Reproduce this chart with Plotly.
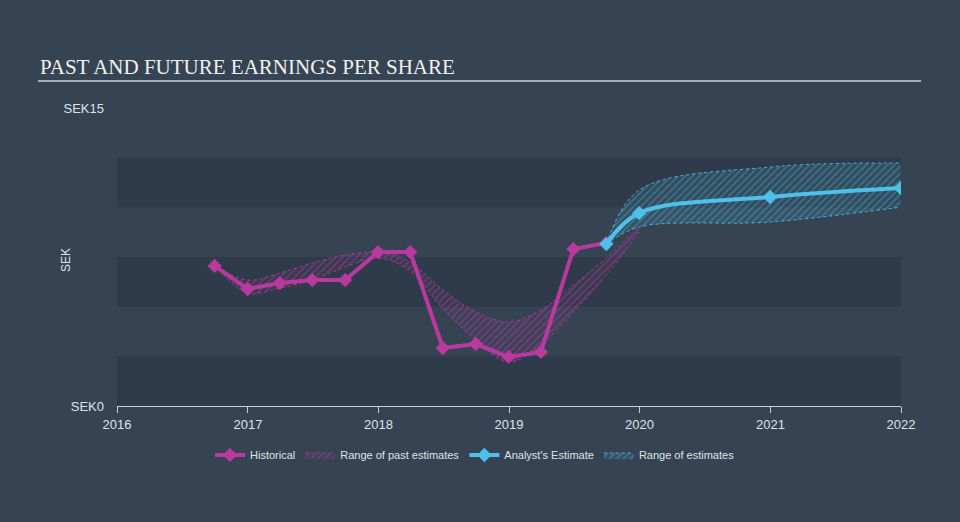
import plotly.graph_objects as go

# ---- data ----
hist_dates = ["2016-09-30", "2016-12-31", "2017-03-31", "2017-06-30", "2017-09-30",
              "2017-12-31", "2018-03-31", "2018-06-30", "2018-09-30", "2018-12-31",
              "2019-03-31", "2019-06-30", "2019-09-30"]
hist_eps = [7.05, 5.89, 6.19, 6.34, 6.34, 7.75, 7.75, 2.92, 3.12, 2.47, 2.72, 7.90, 8.20]

past_range_dates = ["2016-09-30", "2016-12-31", "2017-03-31", "2017-06-30", "2017-09-30",
                    "2017-12-31", "2018-03-31", "2018-06-30", "2018-09-30", "2018-12-31",
                    "2019-03-31", "2019-06-30", "2019-09-30", "2019-12-31"]
past_high = [7.05, 6.34, 6.69, 7.20, 7.60, 7.75, 7.25, 5.84, 4.73, 4.23, 4.83, 6.09, 7.45, 9.06]
past_low = [7.05, 5.69, 5.94, 6.34, 7.00, 7.45, 6.79, 4.90, 3.32, 2.21, 3.07, 4.73, 6.59, 8.76]

fut_dates = ["2019-09-30", "2019-12-31", "2020-12-31", "2021-12-31"]
fut_eps = [8.15, 9.71, 10.52, 10.97]
fut_high = [8.15, 10.87, 12.03, 12.23]
fut_low = [8.15, 9.01, 9.26, 10.01]

year_ticks = ["2016-01-01", "2017-01-01", "2018-01-01", "2019-01-01",
              "2020-01-01", "2021-01-01", "2022-01-01"]
year_labels = ["2016", "2017", "2018", "2019", "2020", "2021", "2022"]
y_ticks = [0, 15]
y_labels = ["SEK0", "SEK15"]
stripe_bands = [(0, 2.5), (5, 7.5), (10, 12.5)]

MAG = "#b9399f"
CYAN = "#4fc1e9"
BG = "#354353"
STRIPE = "#2f3b4a"
TXT = "#dfe3e8"

# pixel geometry helpers (plot area 117..901 x, 108..406 y)
PL, PR, PT, PB = 117, 901, 108, 406
def px(x):
    return (x - PL) / (PR - PL)
def py(y):
    return (PB - y) / (PB - PT)

fig = go.Figure()

# past range
fig.add_trace(go.Scatter(x=past_range_dates, y=past_low, mode="lines",
                         line=dict(color="rgba(185,57,159,0.8)", width=1, dash="dot", shape="spline"),
                         showlegend=False, hoverinfo="skip"))
fig.add_trace(go.Scatter(x=past_range_dates, y=past_high, mode="lines", name="Range of past estimates",
                         line=dict(color="rgba(185,57,159,0.8)", width=1, dash="dot", shape="spline"),
                         fill="tonexty", fillcolor="rgba(185,57,159,0.1)",
                         fillpattern=dict(shape="/", fgcolor="rgba(185,57,159,0.9)",
                                          bgcolor="rgba(185,57,159,0.06)", size=5, solidity=0.3),
                         legendrank=2))
# future range
fig.add_trace(go.Scatter(x=fut_dates, y=fut_low, mode="lines",
                         line=dict(color="rgba(79,193,233,0.85)", width=1, dash="dot", shape="spline"),
                         showlegend=False, hoverinfo="skip"))
fig.add_trace(go.Scatter(x=fut_dates, y=fut_high, mode="lines", name="Range of estimates",
                         line=dict(color="rgba(79,193,233,0.85)", width=1, dash="dot", shape="spline"),
                         fill="tonexty", fillcolor="rgba(79,193,233,0.12)",
                         fillpattern=dict(shape="/", fgcolor="rgba(79,193,233,0.7)",
                                          bgcolor="rgba(79,193,233,0.12)", size=5, solidity=0.3),
                         legendrank=4))
# historical
fig.add_trace(go.Scatter(x=hist_dates, y=hist_eps, mode="lines+markers", name="Historical",
                         line=dict(color=MAG, width=4),
                         marker=dict(symbol="diamond", size=11, color=MAG),
                         legendrank=1))
# analyst estimate
fig.add_trace(go.Scatter(x=fut_dates, y=fut_eps, mode="lines+markers", name="Analyst's Estimate",
                         line=dict(color=CYAN, width=4, shape="spline"),
                         marker=dict(symbol="diamond", size=11, color=CYAN),
                         legendrank=3))

shapes = []
for lo, hi in stripe_bands:
    shapes.append(dict(type="rect", xref="x", yref="y", x0=year_ticks[0], x1=year_ticks[-1],
                       y0=lo, y1=hi, fillcolor=STRIPE, line=dict(width=0), layer="below"))
shapes.append(dict(type="line", xref="paper", yref="paper", x0=px(38), x1=px(921),
                   y0=py(81), y1=py(81), line=dict(color="#a9aeb4", width=2)))

fig.update_layout(
    width=960, height=522,
    margin=dict(l=PL, r=960 - PR, t=PT, b=522 - PB),
    paper_bgcolor=BG, plot_bgcolor=BG,
    font=dict(family="Liberation Sans, Arial, sans-serif", color=TXT, size=12),
    shapes=shapes,
    showlegend=True,
    legend=dict(orientation="h", x=px(475), xanchor="center", y=py(455), yanchor="middle",
                font=dict(size=11, color=TXT), bgcolor="rgba(0,0,0,0)", itemwidth=30,
                traceorder="normal"),
    annotations=[
        dict(text="PAST AND FUTURE EARNINGS PER SHARE", xref="paper", yref="paper",
             x=px(38), y=py(67), xanchor="left", yanchor="middle", showarrow=False,
             font=dict(family="Liberation Serif, Times New Roman, serif", size=21, color="#f2f2f2")),
        dict(text="SEK", xref="paper", yref="paper", x=px(66), y=py(260), textangle=-90,
             xanchor="center", yanchor="middle", showarrow=False,
             font=dict(size=12, color=TXT)),
    ],
)
fig.update_xaxes(range=[year_ticks[0], year_ticks[-1]], tickvals=year_ticks, ticktext=year_labels,
                 showgrid=False, zeroline=False, showline=True, linecolor="#c9d0d8", linewidth=1,
                 ticks="outside", ticklen=6, tickcolor="#c9d0d8", tickfont=dict(size=13, color=TXT))
fig.update_yaxes(range=[0, 15], tickvals=y_ticks, ticktext=y_labels, showgrid=False,
                 zeroline=False, showline=False, ticks="", ticklabelstandoff=12,
                 tickfont=dict(size=13, color=TXT))

fig.write_html("out.html", config={"displayModeBar": False},
               post_script="document.body.style.margin='0';document.body.style.background='" + BG + "';")
